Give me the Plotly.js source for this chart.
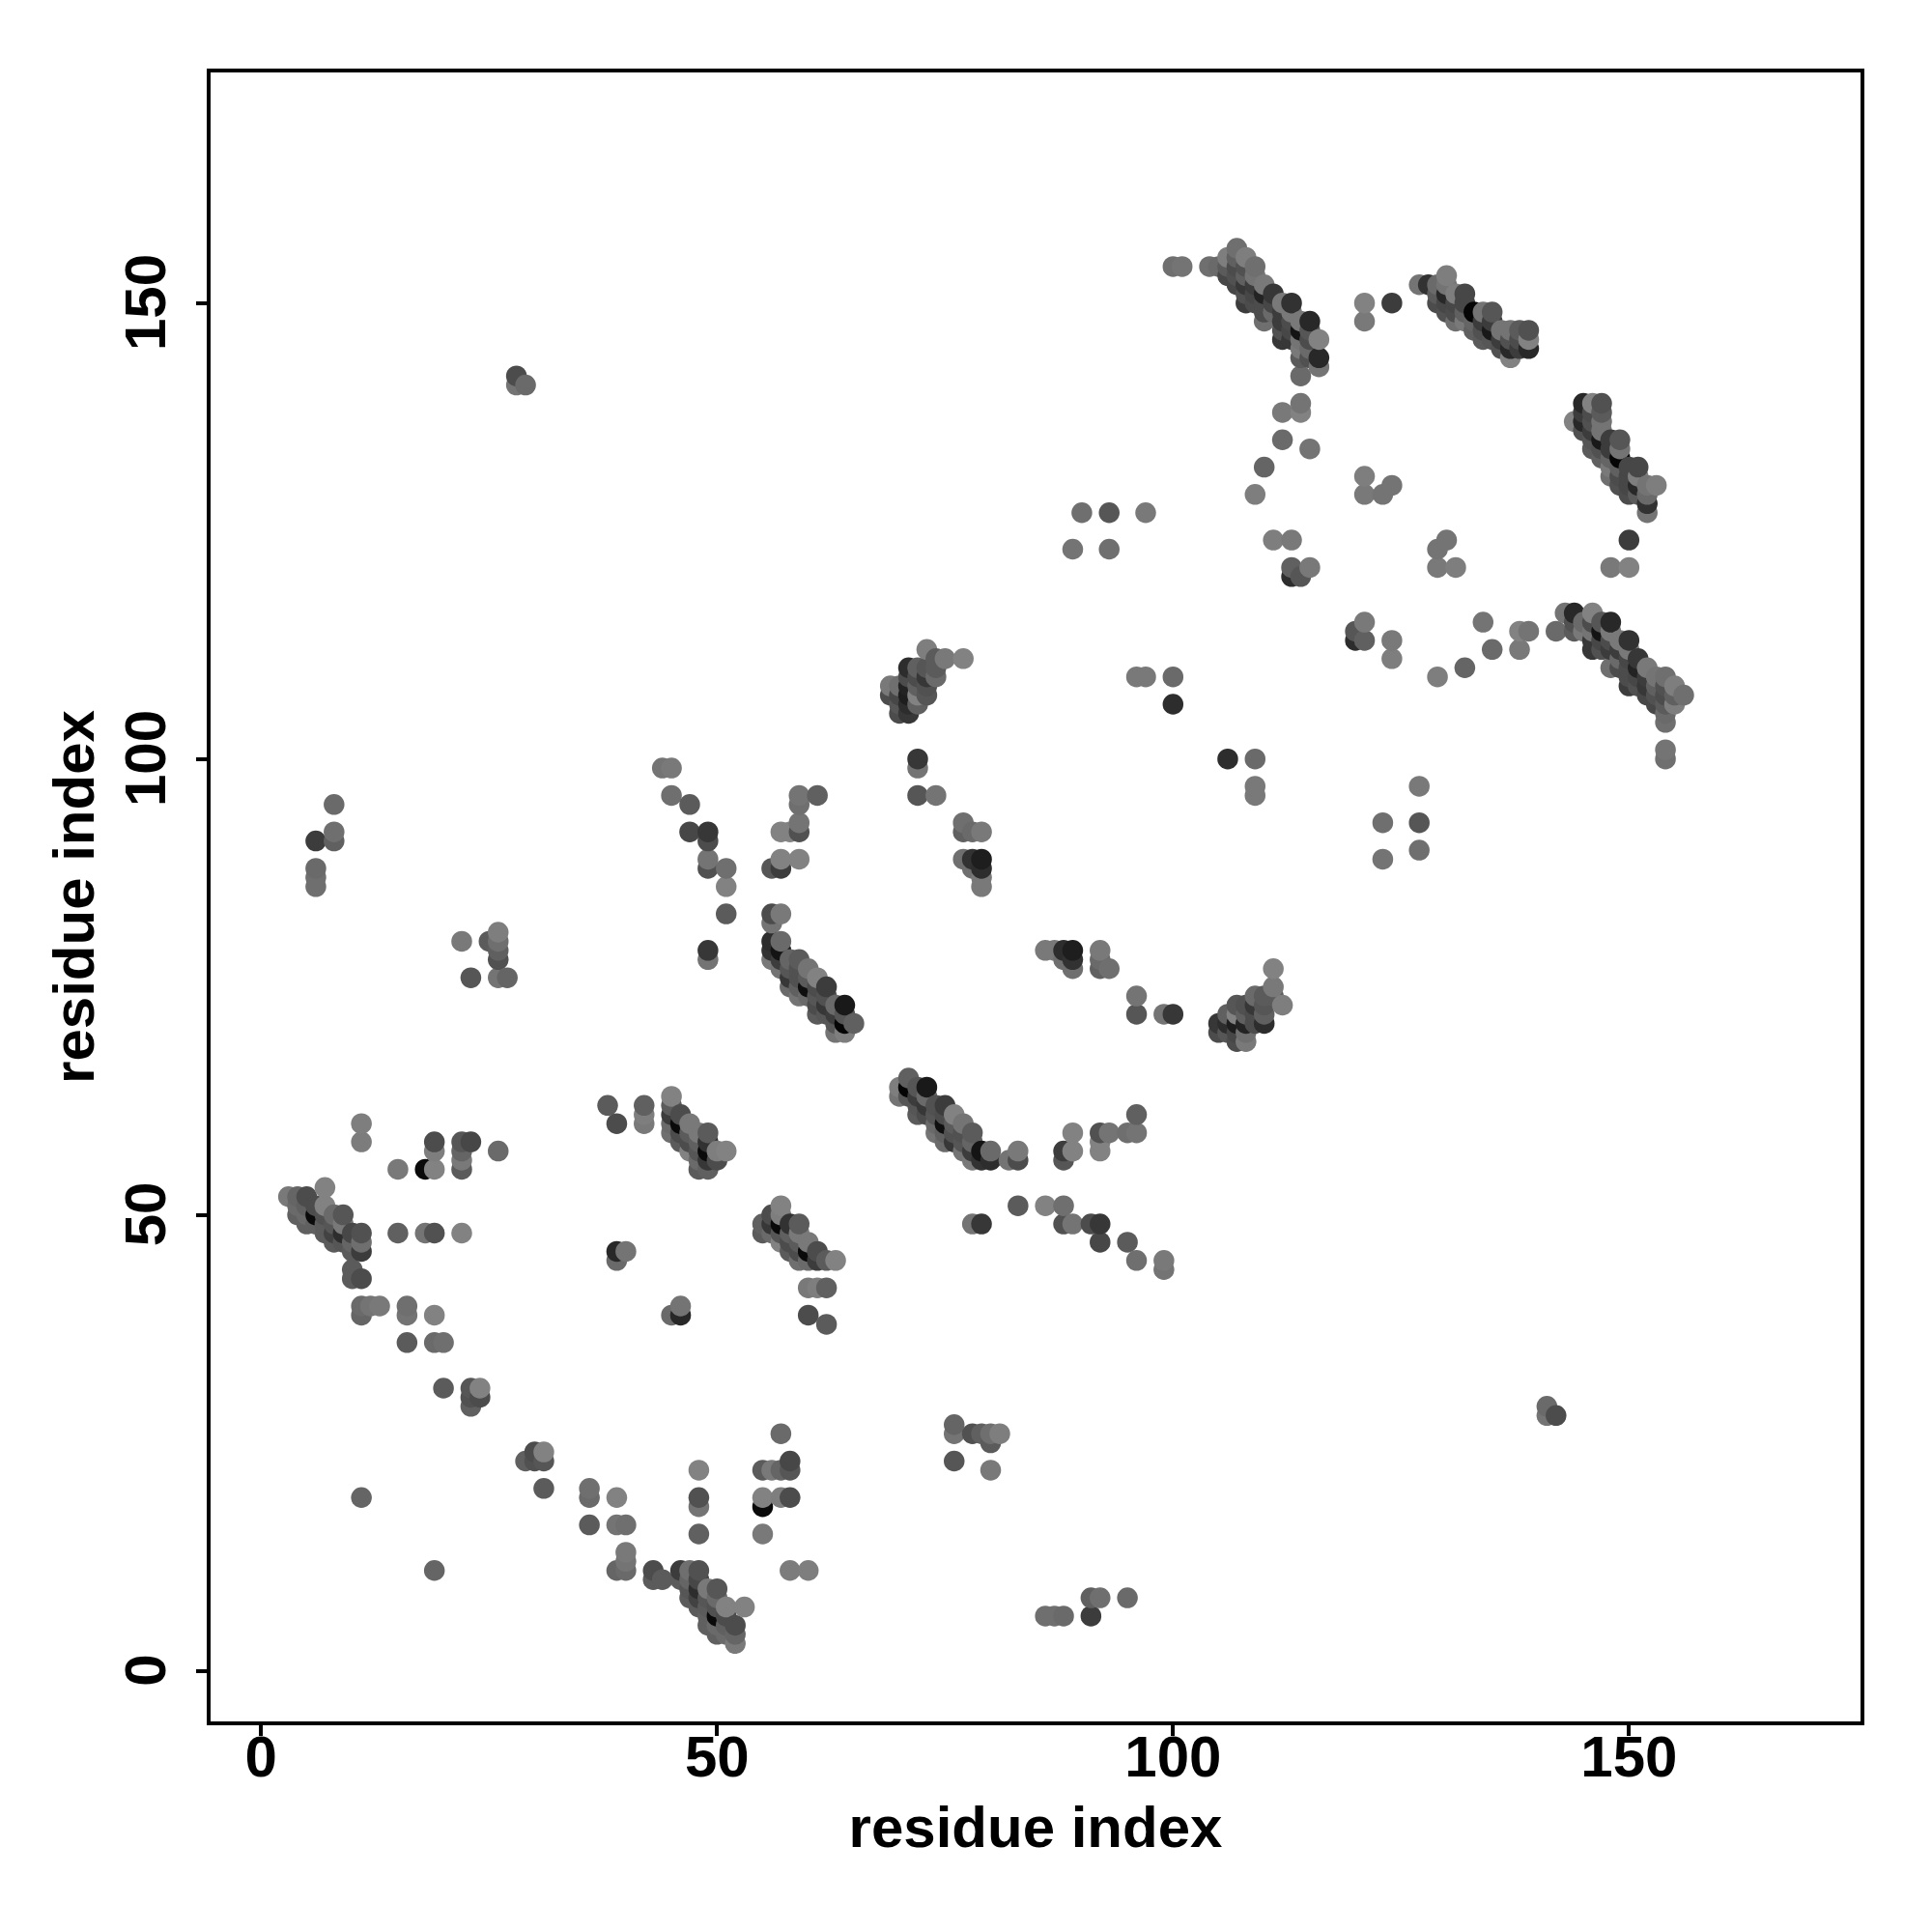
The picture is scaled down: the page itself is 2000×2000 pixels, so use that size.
<!DOCTYPE html>
<html>
<head>
<meta charset="utf-8">
<script src="https://cdn.plot.ly/plotly-3.0.1.min.js"></script>
<style>html,body{margin:0;padding:0;background:#fff}#plot{width:2000px;height:2000px}</style>
</head>
<body>
<div id="plot"></div>
<script>
// Contact pairs [residue i, residue j, grey level]; each pair is drawn at (i,j) and (j,i).
const tickValues = [0, 50, 100, 150];
const axisTitle = "residue index";

const strand3to11 = [
 [3,52,121],[4,50,96],[4,51,106],[4,52,101],[5,49,96],[5,50,106],[5,51,96],[5,52,76],
 [6,49,96],[6,50,10],[6,51,76],[7,48,91],[7,49,91],[7,50,81],[7,51,130],[7,53,130],
 [8,47,91],[8,48,66],[8,49,86],[8,50,106],[9,47,86],[9,48,45],[9,49,121],[9,50,86],
 [10,46,91],[10,47,101],[10,48,71],[11,46,60],[11,47,111],[11,48,81],
 [10,43,91],[10,44,91],[11,43,76]
];
const leftScatter = [
 [6,86,111],[6,87,111],[6,88,106],[6,91,60],[8,91,96],[8,92,111],[8,95,106],
 [11,58,124],[11,60,126],[15,55,121],[18,55,10],[19,55,130],[19,57,126],[19,58,76],
 [22,55,91],[22,56,121],[22,57,101],[22,58,86],[23,58,71],[26,57,106],
 [15,48,96],[18,48,116],[19,48,81],[22,48,130],
 [11,39,101],[11,40,106],[12,40,116],[13,40,121],[16,39,116],[16,40,111],[19,39,130],
 [16,36,91],[19,36,106],[20,36,111],[11,19,101],
 [20,31,91],[23,29,96],[23,30,81],[23,31,86],[24,30,76],[24,31,130],
 [28,141,116],[28,142,76],[29,141,106],
 [22,80,121],[23,76,86],[25,80,91],[26,76,116],[26,78,81],[26,79,96],[26,80,111],[26,81,126],[27,76,101]
];
const strand38to52 = [
 [38,62,91],[39,60,76],[42,60,121],[42,61,126],[42,62,96],
 [39,45,106],[39,46,40],[40,46,116],
 [45,59,111],[45,60,106],[45,61,60],[45,62,91],[45,63,130],
 [46,58,91],[46,59,76],[46,60,10],[46,61,76],
 [47,57,130],[47,58,76],[47,59,91],[47,60,121],
 [48,55,91],[48,56,106],[48,57,86],[48,58,96],[48,59,121],
 [49,55,96],[49,56,55],[49,57,10],[49,58,50],[49,59,91],
 [50,56,76],[50,57,126],[51,57,130]
];
const arcs44to51 = [
 [44,99,116],[45,99,121],[45,96,111],[47,95,91],[47,92,71],
 [49,92,55],[49,91,76],[49,89,116],[49,88,81],[51,88,111],[51,86,130],[51,83,91],
 [49,79,55],[49,78,116]
];
const strand56to65 = [
 [56,78,121],[56,79,50],[56,80,45],[56,82,116],[56,83,76],[57,83,121],
 [57,77,116],[57,78,60],[57,79,20],[57,80,106],
 [58,75,106],[58,76,55],[58,77,86],[58,78,101],
 [59,74,116],[59,75,96],[59,76,81],[59,77,81],[59,78,91],
 [60,74,106],[60,75,15],[60,76,91],[60,77,116],
 [61,72,91],[61,73,76],[61,74,86],[61,75,76],[61,76,130],
 [62,72,86],[62,73,55],[62,74,81],[62,75,60],
 [63,70,116],[63,71,86],[63,72,60],[63,73,106],
 [64,70,126],[64,71,5],[64,72,86],[64,73,25],[65,71,96]
];
const arcs56to61 = [
 [57,92,130],[58,92,130],[59,92,81],[59,93,116],[59,95,111],[59,96,116],[61,96,96],
 [56,88,86],[57,88,60],[57,89,130],[59,89,130]
];
const strand69to77 = [
 [69,107,76],[69,108,121],
 [70,105,76],[70,106,86],[70,107,71],[70,108,111],
 [71,105,55],[71,106,45],[71,107,30],[71,108,35],[71,109,76],[71,110,45],
 [72,106,96],[72,107,130],[72,108,96],[72,109,76],[72,110,96],
 [73,107,86],[73,108,81],[73,109,55],[73,110,86],[73,112,126],
 [74,109,106],[74,110,91],[74,111,91],[75,111,121],[77,111,130]
];
const arcs72to79 = [
 [72,96,86],[72,99,116],[72,100,55],[74,96,116],
 [77,89,111],[77,92,96],[77,93,111],[78,88,111],[78,89,50],[78,92,106],
 [79,86,121],[79,87,121],[79,88,45],[79,89,30],[79,92,121]
];
const middleScatter = [
 [89,123,116],[90,127,111],[93,123,111],[93,127,86],[97,127,121],
 [96,109,121],[97,109,121],[100,106,45],[100,109,106],
 [109,129,126],[110,132,101],[112,135,106],[112,138,121],[114,138,130],[114,139,116],
 [115,134,116],[114,142,106],
 [111,124,126],[113,124,121],[113,120,45],[113,121,96],[114,120,86],[115,121,121],
 [121,129,121],[121,131,126],[123,129,116],[124,130,116],
 [121,148,121],[121,150,130],[124,150,60]
];
const strand100to116 = [
 [100,154,111],[101,154,116],[104,154,111],[105,154,106],
 [106,153,71],[106,154,91],[106,155,126],
 [107,152,71],[107,153,81],[107,154,76],[107,155,96],[107,156,111],
 [108,150,60],[108,151,81],[108,152,55],[108,153,96],[108,154,81],[108,155,126],
 [109,150,76],[109,151,71],[109,152,60],[109,153,116],[109,154,111],
 [110,148,111],[110,149,76],[110,150,76],[110,151,35],[110,152,121],
 [111,149,106],[111,150,71],[111,151,55],
 [112,146,55],[112,147,81],[112,148,60],[112,149,60],[112,150,121],
 [113,146,55],[113,147,71],[113,148,76],[113,149,121],[113,150,50],
 [114,144,91],[114,145,121],[114,146,116],[114,147,20],[114,148,121],
 [115,144,81],[115,145,106],[115,146,76],[115,147,86],[115,148,40],
 [116,143,116],[116,144,40],[116,146,130]
];
const strand127to139 = [
 [127,152,116],[128,152,50],
 [129,150,76],[129,151,91],[129,152,106],
 [130,149,81],[130,150,71],[130,151,40],[130,152,116],[130,153,126],
 [131,148,111],[131,149,76],[131,150,71],[131,151,126],
 [132,148,121],[132,149,96],[132,150,71],[132,151,71],
 [133,147,96],[133,148,101],[133,149,5],
 [134,146,91],[134,147,81],[134,148,60],[134,149,116],
 [135,146,86],[135,147,25],[135,148,60],[135,149,86],
 [136,145,81],[136,146,60],[136,147,116],
 [137,144,130],[137,145,40],[137,146,81],[137,147,116],
 [138,145,60],[138,146,76],[138,147,91],
 [139,145,40],[139,146,130],[139,147,81]
];

const contacts = [].concat(strand3to11, leftScatter, strand38to52, arcs44to51, strand56to65,
  arcs56to61, strand69to77, arcs72to79, middleScatter, strand100to116, strand127to139);
const both = [];
contacts.forEach(function (c) {
  both.push({x: c[0], y: c[1], g: c[2]});
  both.push({x: c[1], y: c[0], g: c[2]});
});
both.sort(function (a, b) { return a.x - b.x || a.y - b.y; });

const font = "'Liberation Sans', Arial, sans-serif";
const axisBase = {
  tickvals: tickValues, ticktext: tickValues.map(String), tickmode: "array",
  showgrid: false, zeroline: false, showline: true, mirror: true,
  linecolor: "#000", linewidth: 4,
  ticks: "outside", ticklen: 11, tickwidth: 4, tickcolor: "#000",
  tickfont: {family: font, size: 60, color: "#000", weight: "bold"},
  automargin: false
};
Plotly.newPlot("plot", [{
  type: "scatter", mode: "markers",
  x: both.map(function (p) { return p.x; }),
  y: both.map(function (p) { return p.y; }),
  marker: {size: 21.5, line: {width: 0},
    color: both.map(function (p) { return "rgb(" + p.g + "," + p.g + "," + p.g + ")"; })},
  hoverinfo: "skip", cliponaxis: true
}], {
  width: 2000, height: 2000, showlegend: false,
  paper_bgcolor: "#fff", plot_bgcolor: "#fff",
  margin: {l: 218, r: 74, t: 75, b: 218, pad: 0},
  xaxis: Object.assign({}, axisBase, {
    range: [-5.54, 175.39], ticklabelstandoff: -30,
    title: {text: "<b>" + axisTitle + "</b>", standoff: 20, font: {family: font, size: 60, color: "#000"}}
  }),
  yaxis: Object.assign({}, axisBase, {
    range: [-5.55, 175.28], tickangle: -90, ticklabelstandoff: 8,
    ticktext: tickValues.map(function (v) { return v + "\u00a0"; }),
    title: {text: "<b>" + axisTitle + "</b>", standoff: 1, font: {family: font, size: 60, color: "#000"}}
  })
}, {displayModeBar: false, staticPlot: true});
</script>
</body>
</html>
